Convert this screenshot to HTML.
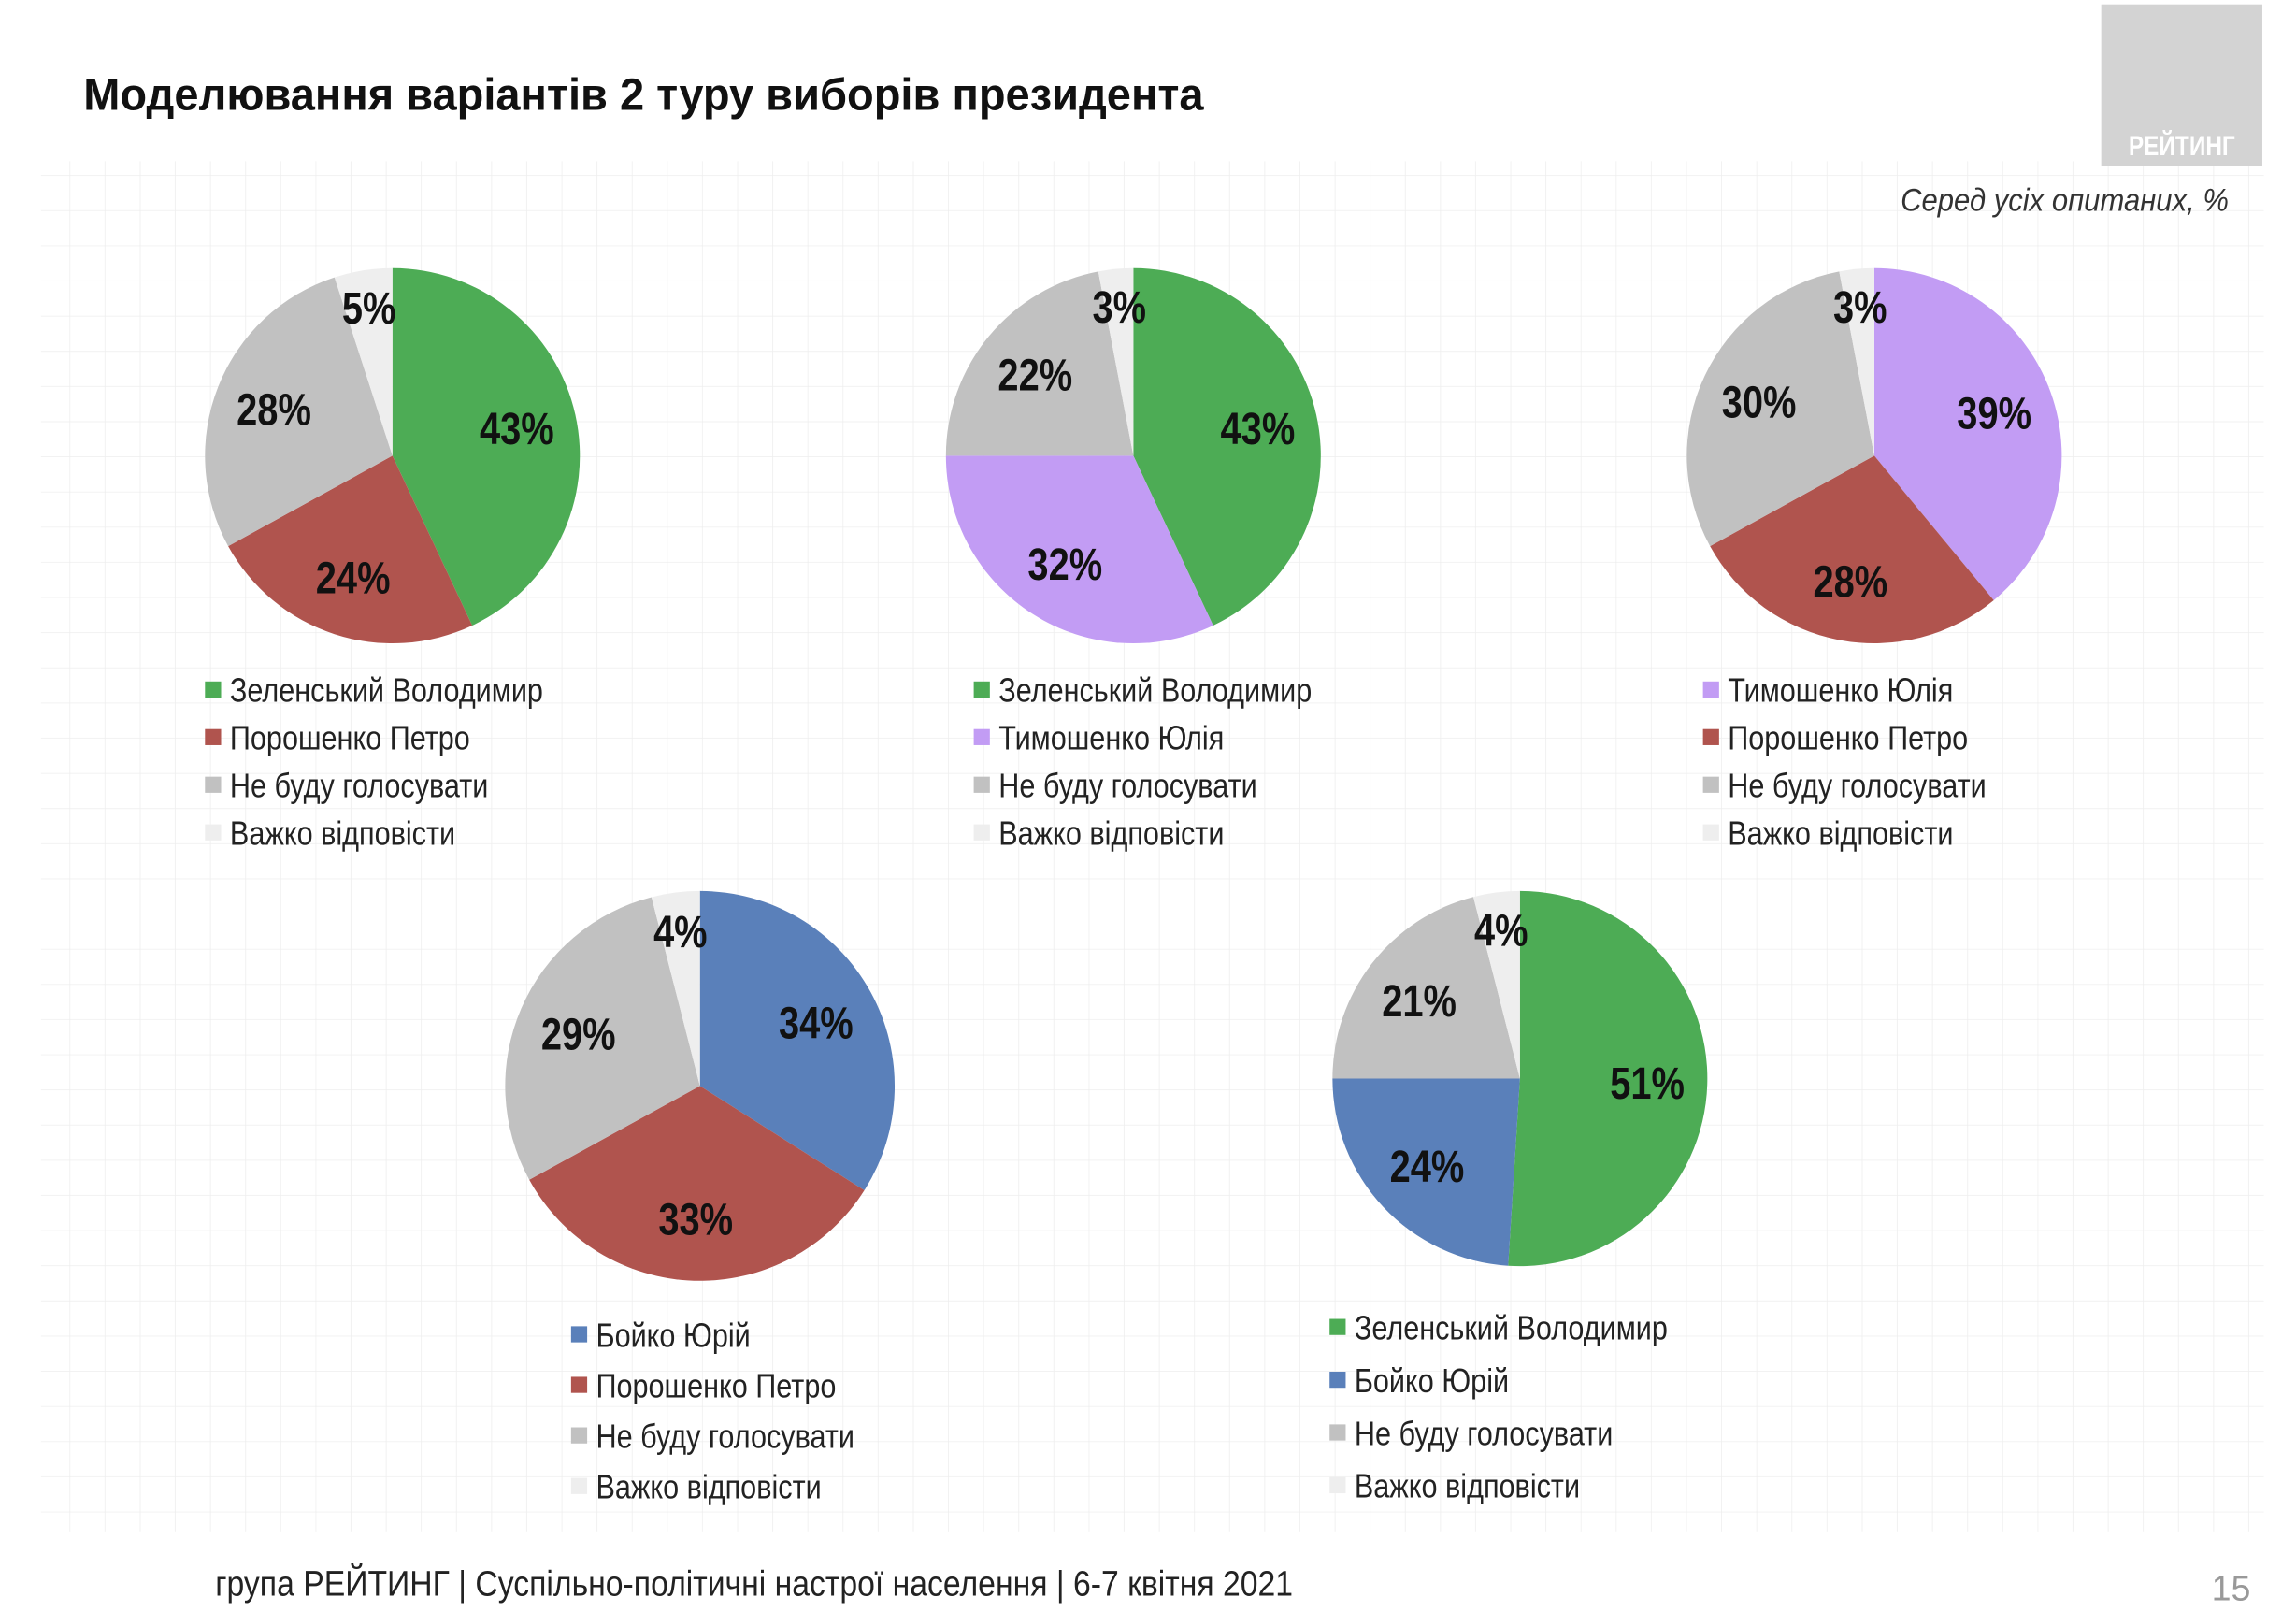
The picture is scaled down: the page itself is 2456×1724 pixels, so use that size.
<!DOCTYPE html>
<html><head><meta charset="utf-8"><style>
html,body{margin:0;padding:0;background:#fff;}
svg{display:block;}
text{font-family:"Liberation Sans Narrow","Liberation Sans",sans-serif;}
</style></head><body>
<svg id="chart" width="2456" height="1724" viewBox="0 0 1568 1100" preserveAspectRatio="none" xmlns="http://www.w3.org/2000/svg">
<defs>
<pattern id="grid" width="24" height="24" patternUnits="userSpaceOnUse">
<path d="M24 0V24M0 24H24" stroke="#eeeeee" stroke-width="1" fill="none"/>
</pattern>
</defs>
<rect x="0" y="0" width="1568" height="1100" fill="#fff"/>
<rect x="28" y="110" width="1518" height="935" fill="url(#grid)"/>
<rect x="1435" y="3" width="110" height="110" fill="#d3d3d3"/>
<text class="narrow" x="1490" y="106" text-anchor="middle" font-size="19" font-weight="bold" fill="#fff">РЕЙТИНГ</text>
<text x="57" y="75" font-size="31" font-weight="bold" fill="#111" font-family="Liberation Sans, sans-serif" textLength="765" lengthAdjust="spacingAndGlyphs">Моделювання варіантів 2 туру виборів президента</text>
<text x="1522" y="144" text-anchor="end" font-size="22" font-style="italic" fill="#333" textLength="224" lengthAdjust="spacingAndGlyphs">Серед усіх опитаних, %</text>
<g id="pies"></g>
<text x="147" y="1089" font-size="24" fill="#222" textLength="736" lengthAdjust="spacingAndGlyphs">група РЕЙТИНГ | Суспільно-політичні настрої населення | 6-7 квітня 2021</text>
<text x="1537" y="1092" text-anchor="end" font-size="24" fill="#999">15</text>
</svg>
<script>
const COLORS = {z:'#4dac55', p:'#b0544e', n:'#c1c1c1', h:'#eeeeee', t:'#c29cf4', b:'#5a80ba'};
const NAMES = {z:'Зеленський Володимир', p:'Порошенко Петро', n:'Не буду голосувати', h:'Важко відповісти', t:'Тимошенко Юлія', b:'Бойко Юрій'};
const pie1Keys = ['z','p','n','h'];
const pie1Values = [43,24,28,5];
const pie2Keys = ['z','t','n','h'];
const pie2Values = [43,32,22,3];
const pie3Keys = ['t','p','n','h'];
const pie3Values = [39,28,30,3];
const pie4Keys = ['b','p','n','h'];
const pie4Values = [34,33,29,4];
const pie5Keys = ['z','b','n','h'];
const pie5Values = [51,24,21,4];

const layouts = [
 {keys:pie1Keys, vals:pie1Values, cx:268, cy:311, r:128, lx:140, ly:471, dy:32.5},
 {keys:pie2Keys, vals:pie2Values, cx:774, cy:311, r:128, lx:665, ly:471, dy:32.5},
 {keys:pie3Keys, vals:pie3Values, cx:1280, cy:311, r:128, lx:1163, ly:471, dy:32.5},
 {keys:pie4Keys, vals:pie4Values, cx:478, cy:741, r:133, lx:390, ly:911, dy:34.5},
 {keys:pie5Keys, vals:pie5Values, cx:1038, cy:736, r:128, lx:908, ly:906, dy:36}
];
const NS='http://www.w3.org/2000/svg';
const root=document.getElementById('pies');
function mk(tag,attrs){const e=document.createElementNS(NS,tag);for(const k in attrs)e.setAttribute(k,attrs[k]);return e;}
layouts.forEach((L,pi)=>{
  const g=mk('g',{});
  
  
  root.appendChild(g);
  const total=L.vals.reduce((a,b)=>a+b,0);
  let acc=0;
  L.vals.forEach((v,i)=>{
    const a0=acc/total*2*Math.PI, a1=(acc+v)/total*2*Math.PI;
    acc+=v;
    const x0=L.cx+L.r*Math.sin(a0), y0=L.cy-L.r*Math.cos(a0);
    const x1=L.cx+L.r*Math.sin(a1), y1=L.cy-L.r*Math.cos(a1);
    const large=(a1-a0)>Math.PI?1:0;
    const p=mk('path',{d:`M${L.cx},${L.cy}L${x0},${y0}A${L.r},${L.r} 0 ${large} 1 ${x1},${y1}Z`,fill:COLORS[L.keys[i]]});
    
    
    g.appendChild(p);
    const am=(a0+a1)/2, f=v<6?0.8:0.68;
    const t=mk('text',{class:'narrow',x:L.cx+L.r*f*Math.sin(am),y:L.cy-L.r*f*Math.cos(am)+11,'text-anchor':'middle','font-size':31,'font-weight':'bold',fill:'#111'});
    t.textContent=v+'%';
    
    
    g.appendChild(t);
    const sq=mk('rect',{x:L.lx,y:L.ly+i*L.dy-6,width:11,height:11,fill:COLORS[L.keys[i]]});
    
    
    g.appendChild(sq);
    const lt=mk('text',{class:'narrow wide',x:L.lx+17,y:L.ly+i*L.dy+8,'font-size':23,fill:'#222'});
    lt.textContent=NAMES[L.keys[i]];
    
    
    g.appendChild(lt);
  });
});
document.querySelectorAll('text.narrow').forEach(t=>{
  const w=t.getComputedTextLength();
  const k=t.classList.contains('wide')?0.85:0.82;
  t.setAttribute('textLength',(w*k).toFixed(1));
  t.setAttribute('lengthAdjust','spacingAndGlyphs');
});
</script>
</body></html>
